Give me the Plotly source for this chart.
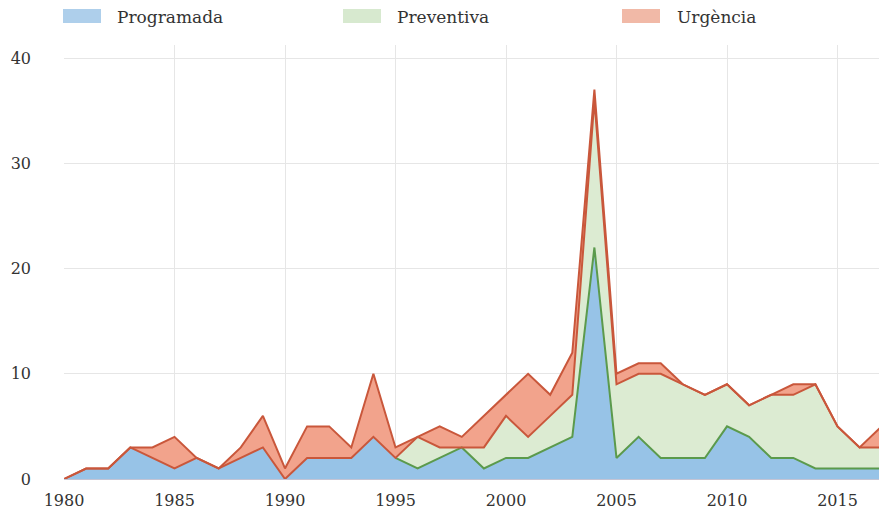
import numpy as np
import plotly.graph_objects as go

years = list(range(1980, 2018))
programada = [0, 1, 1, 3, 2, 1, 2, 1, 2, 3, 0, 2, 2, 2, 4, 2, 1, 2, 3, 1,
              2, 2, 3, 4, 22, 2, 4, 2, 2, 2, 5, 4, 2, 2, 1, 1, 1, 1]
preventiva = [0, 0, 0, 0, 0, 0, 0, 0, 0, 0, 0, 0, 0, 0, 0, 0, 3, 1, 0, 2,
              4, 2, 3, 4, 14, 7, 6, 8, 7, 6, 4, 3, 6, 6, 8, 4, 2, 2]
urgencia = [0, 0, 0, 0, 1, 3, 0, 0, 1, 3, 1, 3, 3, 1, 6, 1, 0, 2, 1, 3,
            2, 6, 2, 4, 1, 1, 1, 1, 0, 0, 0, 0, 0, 1, 0, 0, 0, 2]
prev_start_year = 1995
series_names = ["Programada", "Preventiva", "Urgència"]
x_ticks = [1980, 1985, 1990, 1995, 2000, 2005, 2010, 2015]
y_ticks = [0, 10, 20, 30, 40]

fill_colors = ["#97c3e7", "#dcebd2", "#f2a38c"]
legend_colors = ["#aecfeb", "#d7e9cf", "#f1b9a7"]
red_line = "#c9573b"
green_line = "#5b9a4c"
FONT = "DejaVu Serif"

p = np.array(programada, dtype=float)
v = np.array(preventiva, dtype=float)
u = np.array(urgencia, dtype=float)
blue_top = p
green_top = p + v
total = p + v + u

fig = go.Figure()
for name, vals, col in zip(series_names, [programada, preventiva, urgencia], fill_colors):
    fig.add_trace(go.Scatter(x=years, y=vals, name=name, stackgroup="one",
                             mode="lines", line=dict(width=0), fillcolor=col,
                             showlegend=False, hoverinfo="skip"))

idx = [i for i, y in enumerate(years) if y >= prev_start_year]
fig.add_trace(go.Scatter(x=[years[i] for i in idx], y=[blue_top[i] for i in idx],
                         mode="lines", line=dict(color=green_line, width=2),
                         showlegend=False, hoverinfo="skip"))
fig.add_trace(go.Scatter(x=years, y=green_top, mode="lines",
                         line=dict(color=red_line, width=2),
                         showlegend=False, hoverinfo="skip"))
fig.add_trace(go.Scatter(x=years, y=total, mode="lines",
                         line=dict(color=red_line, width=2),
                         showlegend=False, hoverinfo="skip"))

# manual legend (positions given in window pixels)
W, H = 815.0, 434.0
L, B = 64.0, 479.0
def px(xp):
    return (xp - L) / W
def py(yp):
    return (B - yp) / H

leg_x = [63, 343, 622]
txt_x = [115, 395, 675]
for name, col, lx, tx in zip(series_names, legend_colors, leg_x, txt_x):
    fig.add_shape(type="rect", xref="paper", yref="paper",
                  x0=px(lx), x1=px(lx + 38), y0=py(23), y1=py(9),
                  fillcolor=col, line=dict(width=0))
    fig.add_annotation(xref="paper", yref="paper", x=px(tx), y=py(17),
                       text=name, showarrow=False, xanchor="left", yanchor="middle",
                       font=dict(family=FONT, size=17, color="#333333"))

fig.update_layout(
    width=879, height=514,
    margin=dict(l=64, r=0, t=45, b=35),
    paper_bgcolor="white", plot_bgcolor="white",
    font=dict(family=FONT, size=16, color="#333333"),
    showlegend=False,
)
fig.update_xaxes(range=[1980, 1980 + 815 / 22.1], tickvals=x_ticks,
                 ticktext=[str(t) for t in x_ticks],
                 showgrid=True, gridcolor="#e6e6e6", gridwidth=1,
                 showline=True, linecolor="#c4c4d4", linewidth=1,
                 zeroline=False, ticks="", ticklabelstandoff=7)
fig.update_yaxes(range=[0, 41.24], tickvals=y_ticks,
                 showgrid=True, gridcolor="#e6e6e6", gridwidth=1,
                 zeroline=False, ticks="", ticklabelstandoff=32)

fig.write_html(
    "out.html",
    config={"displayModeBar": False},
    post_script="document.body.style.margin='0';document.body.style.overflow='hidden';",
)
